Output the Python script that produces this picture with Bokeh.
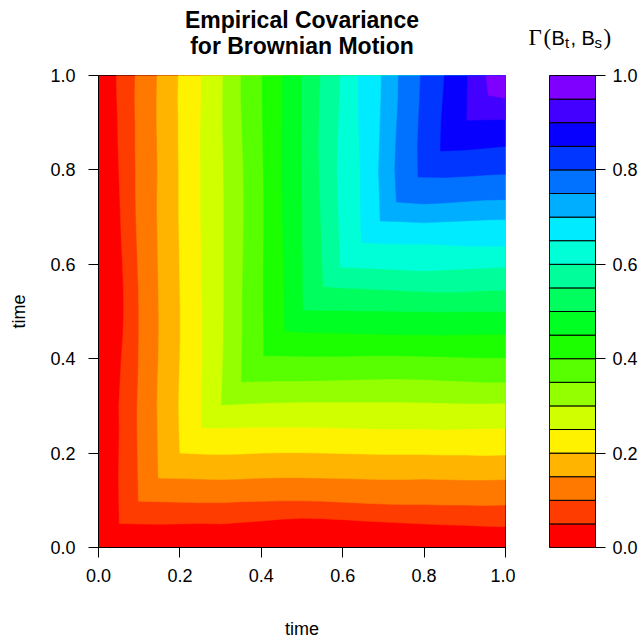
from bokeh.plotting import figure
from bokeh.layouts import row, column
from bokeh.models import Range1d, FixedTicker, PrintfTickFormatter
from bokeh.embed import file_html
from bokeh.resources import INLINE
from bokeh.core.properties import value

# ---------------- data ----------------
levels = [0.00, 0.05, 0.10, 0.15, 0.20, 0.25, 0.30, 0.35, 0.40, 0.45, 0.50,
          0.55, 0.60, 0.65, 0.70, 0.75, 0.80, 0.85, 0.90, 0.95, 1.00]
ticks = [0.0, 0.2, 0.4, 0.6, 0.8, 1.0]
# heights (along the time axis) at which each contour arm was read
arm_u = [0.05, 0.10, 0.15, 0.20, 0.25, 0.30, 0.35, 0.40, 0.45, 0.50,
         0.55, 0.60, 0.65, 0.70, 0.75, 0.80, 0.85, 0.90, 0.95, 1.00]
# position of contour Gamma = level, read at arm_u[k:] (covariance is symmetric)
edge_05 = [.050, .049, .050, .051, .050, .053, .056, .060, .062, .061, .059, .056, .054, .052, .050, .048, .047, .045, .044]
edge_10 = [.097, .096, .095, .095, .097, .098, .099, .099, .098, .096, .094, .092, .091, .091, .090, .090, .089, .090]
edge_15 = [.146, .145, .144, .145, .147, .148, .148, .147, .146, .145, .144, .144, .145, .144, .143, .143, .144]
edge_20 = [.198, .197, .198, .200, .201, .201, .200, .199, .198, .197, .197, .197, .196, .196, .195, .196]
edge_25 = [.253, .254, .255, .255, .255, .254, .253, .252, .251, .251, .251, .250, .251, .252, .252]
edge_30 = [.304, .306, .307, .308, .308, .308, .308, .308, .308, .307, .306, .305, .305, .306]
edge_35 = [.352, .353, .353, .354, .355, .356, .357, .357, .356, .354, .352, .350, .350]
edge_40 = [.406, .405, .405, .405, .406, .406, .406, .405, .404, .403, .402, .402]
edge_45 = [.456, .455, .454, .453, .452, .451, .451, .450, .451, .452, .452]
edge_50 = [.502, .502, .501, .501, .500, .500, .499, .500, .500, .500]
edge_55 = [.550, .548, .546, .544, .542, .541, .542, .544, .545]
edge_60 = [.592, .590, .588, .586, .588, .590, .592, .594]
edge_65 = [.644, .643, .643, .641, .639, .638, .638]
edge_70 = [.690, .688, .690, .692, .694, .695]
edge_75 = [.728, .730, .733, .736, .737]
edge_80 = [.784, .786, .789, .791]
edge_85 = [.842, .846, .850]
edge_90 = [.906, .907]
edge_95 = [.952]
# where each contour crosses the diagonal t = s
corners = [.051, .098, .147, .200, .253, .302, .351, .406, .458, .503,
           .553, .594, .646, .692, .732, .785, .840, .905, .958]

palette = ["#FF0000", "#FF3C00", "#FF7900", "#FFB500", "#FFF200", "#D0FF00",
           "#94FF00", "#57FF00", "#1BFF00", "#00FF22", "#00FF5E", "#00FF9A",
           "#00FFD7", "#00EBFF", "#00AEFF", "#0072FF", "#0036FF", "#0700FF",
           "#4300FF", "#8000FF"]

edges = [edge_05, edge_10, edge_15, edge_20, edge_25, edge_30, edge_35, edge_40,
         edge_45, edge_50, edge_55, edge_60, edge_65, edge_70, edge_75, edge_80,
         edge_85, edge_90, edge_95]

SANS = "Liberation Sans"
SERIF = "Liberation Serif"
TOP_H = 62
FRAME_TOP = 75
FRAME_BOTTOM = 548

# ---------------- header (titles) ----------------
tfig = figure(width=643, height=TOP_H, x_range=Range1d(0, 643), y_range=Range1d(TOP_H, 0),
              x_axis_type=None, y_axis_type=None, output_backend="svg",
              toolbar_location=None, min_border=0)
tfig.outline_line_color = None
tfig.xgrid.visible = False
tfig.ygrid.visible = False
tfig.text(x=[301.5, 301.5], y=[19, 45], text=["Empirical Covariance", "for Brownian Motion"],
          text_font=value(SANS), text_font_style="bold", text_font_size="23px",
          text_align="center", text_baseline="middle", text_color="black")
# key title  Gamma(B_t, B_s)
tfig.text(x=[528, 543, 603], y=[37, 37, 37], text=["\u0393", "(", ")"],
          text_font=value(SERIF), text_font_size="23px", text_baseline="alphabetic",
          text_align="left", text_color="black")
tfig.text(x=[551, 570], y=[37, 37], text=["B", ", B"],
          text_font=value(SANS), text_font_size="20px", text_baseline="alphabetic",
          text_align="left", text_color="black")
tfig.text(x=[564.5, 594], y=[42, 42], text=["t", "s"],
          text_font=value(SANS), text_font_size="15px", text_baseline="alphabetic",
          text_align="left", text_color="black")

# ---------------- main contour plot ----------------
p = figure(width=515, height=641 - TOP_H, x_range=Range1d(0, 1), y_range=Range1d(0, 1),
           output_backend="svg", toolbar_location=None,
           min_border_left=98, min_border_right=10, min_border_top=FRAME_TOP - TOP_H,
           min_border_bottom=641 - FRAME_BOTTOM)
p.xgrid.visible = False
p.ygrid.visible = False
p.outline_line_color = "black"
p.background_fill_color = "white"

# lowest band fills the whole square
p.quad(left=[levels[0]], right=[levels[-1]], bottom=[levels[0]], top=[levels[-1]],
       fill_color=palette[0], line_color=None)

xs_list, ys_list, cols = [], [], []
for k, (w, c) in enumerate(zip(edges, corners), start=1):
    us = arm_u[k:]
    xs = list(reversed(w)) + [c] + list(us) + [levels[-1]]
    ys = list(reversed(us)) + [c] + list(w) + [levels[-1]]
    xs_list.append(xs)
    ys_list.append(ys)
    cols.append(palette[k])
p.patches(xs=xs_list, ys=ys_list, fill_color=cols, line_color=cols, line_width=0.5,
          line_join="round")

for ax in (p.xaxis[0], p.yaxis[0]):
    ax.ticker = FixedTicker(ticks=ticks)
    ax.formatter = PrintfTickFormatter(format="%.1f")
    ax.minor_tick_line_color = None
    ax.major_tick_in = 0
    ax.major_tick_out = 10
    ax.axis_line_color = "black"
    ax.major_tick_line_color = "black"
    ax.major_label_text_font = SANS
    ax.major_label_text_font_size = "18px"
    ax.major_label_text_color = "black"
    ax.axis_label = "time"
    ax.axis_label_text_font = SANS
    ax.axis_label_text_font_size = "18px"
    ax.axis_label_text_font_style = "normal"
    ax.axis_label_text_color = "black"
p.xaxis.major_label_standoff = 11
p.xaxis.axis_label_standoff = 34
p.yaxis.major_label_standoff = 13
p.yaxis.axis_label_standoff = 18

# ---------------- colour key ----------------
cfig = figure(width=128, height=641 - TOP_H, x_range=Range1d(0, 1), y_range=Range1d(0, 1),
              x_axis_type=None, y_axis_location="right", output_backend="svg",
              toolbar_location=None, min_border_left=34, min_border_right=48,
              min_border_top=FRAME_TOP - TOP_H, min_border_bottom=641 - FRAME_BOTTOM)
cfig.xgrid.visible = False
cfig.ygrid.visible = False
cfig.outline_line_color = "black"
cfig.quad(left=0, right=1, bottom=levels[:-1], top=levels[1:],
          fill_color=palette, line_color="black", line_width=1)
ay = cfig.yaxis[0]
ay.ticker = FixedTicker(ticks=ticks)
ay.formatter = PrintfTickFormatter(format="%.1f")
ay.minor_tick_line_color = None
ay.major_tick_in = 0
ay.major_tick_out = 10
ay.axis_line_color = "black"
ay.major_tick_line_color = "black"
ay.major_label_text_font = SANS
ay.major_label_text_font_size = "18px"
ay.major_label_text_color = "black"
ay.major_label_standoff = 7

layout = column(tfig, row(p, cfig))
open("out.html", "w").write(file_html(layout, INLINE))
